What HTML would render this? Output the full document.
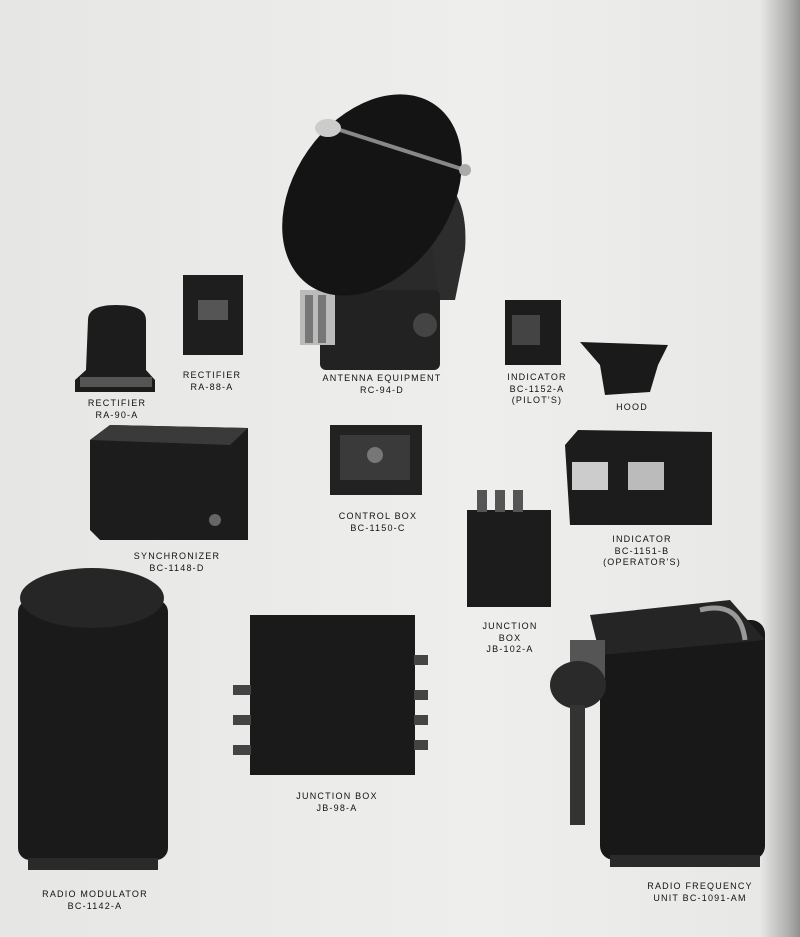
<!DOCTYPE html>
<html><head><meta charset="utf-8"><style>
html,body{margin:0;padding:0}
body{width:800px;height:937px;position:relative;overflow:hidden;background:linear-gradient(90deg,#e6e6e4 0%,#eeeeec 60%,#e8e8e6 95%,#b0b0ae 98.5%,#909090 100%);font-family:"Liberation Sans",sans-serif}
.t{position:absolute;font-size:9px;letter-spacing:1.2px;color:#111;text-align:center;transform:translateX(-50%);white-space:nowrap;line-height:11.5px}
svg{position:absolute;left:0;top:0}
</style></head><body>
<svg width="800" height="937" viewBox="0 0 800 937">
<g fill="#1a1a1a">
<rect x="330" y="240" width="110" height="60" fill="#2a2a2a"/>
<path d="M420 170 Q470 180 465 250 L455 300 L440 300 Z" fill="#2d2d2d"/>
<rect x="320" y="290" width="120" height="80" rx="6" fill="#222"/>
<rect x="300" y="290" width="35" height="55" fill="#bbb"/>
<rect x="305" y="295" width="8" height="48" fill="#777"/>
<rect x="318" y="295" width="8" height="48" fill="#777"/>
<circle cx="425" cy="325" r="12" fill="#444"/>
<ellipse cx="372" cy="195" rx="78" ry="110" transform="rotate(35 372 195)" fill="#141414"/>
<line x1="340" y1="130" x2="465" y2="170" stroke="#888" stroke-width="4"/>
<ellipse cx="328" cy="128" rx="13" ry="9" fill="#ccc"/>
<circle cx="465" cy="170" r="6" fill="#aaa"/>
</g>
<path d="M88 320 Q88 305 116 305 Q146 305 146 320 L146 370 L155 380 L155 392 L75 392 L75 380 L86 370 Z" fill="#1c1c1c"/>
<rect x="80" y="377" width="72" height="10" fill="#555"/>
<rect x="183" y="275" width="60" height="80" fill="#1e1e1e"/>
<rect x="198" y="300" width="30" height="20" fill="#555"/>
<rect x="505" y="300" width="56" height="65" fill="#1c1c1c"/>
<rect x="512" y="315" width="28" height="30" fill="#444"/>
<path d="M580 342 L668 345 L658 365 L650 392 L605 395 L600 365 Z" fill="#1a1a1a"/>
<path d="M90 440 L110 425 L248 428 L248 540 L100 540 L90 530 Z" fill="#1c1c1c"/>
<path d="M90 440 L110 425 L248 428 L230 445 Z" fill="#3a3a3a"/>
<circle cx="215" cy="520" r="6" fill="#666"/>
<rect x="330" y="425" width="92" height="70" fill="#222"/>
<rect x="340" y="435" width="70" height="45" fill="#3a3a3a"/>
<circle cx="375" cy="455" r="8" fill="#777"/>
<path d="M565 445 L578 430 L712 432 L712 525 L570 525 Z" fill="#1c1c1c"/>
<rect x="572" y="462" width="36" height="28" fill="#ccc"/>
<rect x="628" y="462" width="36" height="28" fill="#bbb"/>
<rect x="467" y="510" width="84" height="97" fill="#1c1c1c"/>
<rect x="477" y="490" width="10" height="22" fill="#555"/>
<rect x="495" y="490" width="10" height="22" fill="#555"/>
<rect x="513" y="490" width="10" height="22" fill="#555"/>
<rect x="18" y="600" width="150" height="260" rx="12" fill="#1a1a1a"/>
<ellipse cx="92" cy="598" rx="72" ry="30" fill="#262626"/>
<rect x="28" y="858" width="130" height="12" fill="#2a2a2a"/>
<rect x="250" y="615" width="165" height="160" fill="#1a1a1a"/>
<g fill="#444">
<rect x="233" y="685" width="18" height="10"/><rect x="233" y="715" width="18" height="10"/><rect x="233" y="745" width="18" height="10"/>
<rect x="414" y="655" width="14" height="10"/><rect x="414" y="690" width="14" height="10"/><rect x="414" y="715" width="14" height="10"/><rect x="414" y="740" width="14" height="10"/>
</g>
<rect x="600" y="620" width="165" height="240" rx="14" fill="#181818"/>
<path d="M590 615 L730 600 L765 640 L600 655 Z" fill="#252525"/>
<rect x="570" y="640" width="35" height="40" fill="#555"/>
<ellipse cx="578" cy="685" rx="28" ry="24" fill="#2a2a2a"/>
<rect x="570" y="705" width="15" height="120" fill="#333"/>
<path d="M700 610 Q740 600 745 640" fill="none" stroke="#999" stroke-width="5"/>
<rect x="610" y="855" width="150" height="12" fill="#2a2a2a"/>
</svg>
<div class="t" style="left:117px;top:398px">RECTIFIER<br>RA-90-A</div>
<div class="t" style="left:212px;top:370px">RECTIFIER<br>RA-88-A</div>
<div class="t" style="left:382px;top:373px">ANTENNA EQUIPMENT<br>RC-94-D</div>
<div class="t" style="left:537px;top:372px">INDICATOR<br>BC-1152-A<br>(PILOT'S)</div>
<div class="t" style="left:632px;top:402px">HOOD</div>
<div class="t" style="left:378px;top:511px">CONTROL BOX<br>BC-1150-C</div>
<div class="t" style="left:177px;top:551px">SYNCHRONIZER<br>BC-1148-D</div>
<div class="t" style="left:642px;top:534px">INDICATOR<br>BC-1151-B<br>(OPERATOR'S)</div>
<div class="t" style="left:510px;top:621px">JUNCTION<br>BOX<br>JB-102-A</div>
<div class="t" style="left:337px;top:791px">JUNCTION BOX<br>JB-98-A</div>
<div class="t" style="left:95px;top:889px">RADIO MODULATOR<br>BC-1142-A</div>
<div class="t" style="left:700px;top:881px">RADIO FREQUENCY<br>UNIT BC-1091-AM</div>
</body></html>
